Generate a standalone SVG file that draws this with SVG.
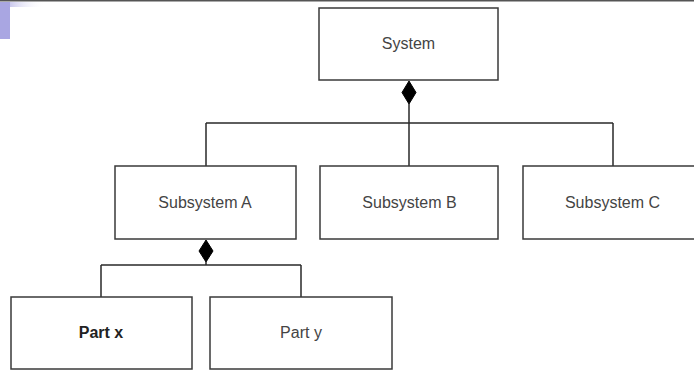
<svg xmlns="http://www.w3.org/2000/svg" width="694" height="371" viewBox="0 0 694 371">
  <style>
    .box { fill: #ffffff; stroke: #3a3a3a; stroke-width: 1.5; }
    .lbl { font-family: "Liberation Sans", Arial, sans-serif; font-size: 16px; fill: #444444; text-anchor: middle; }
    .bold { font-weight: bold; fill: #222222; }
    .wire { fill: none; stroke: #2a2a2a; stroke-width: 1.5; }
    .diamond { fill: #000000; stroke: #000000; stroke-width: 1; }
  </style>
  <defs>
    <linearGradient id="topBar" x1="0" y1="0" x2="1" y2="0">
      <stop offset="0" stop-color="#a9a6e2"/>
      <stop offset="1" stop-color="#ffffff" stop-opacity="0"/>
    </linearGradient>
  </defs>
  <rect x="0" y="0" width="694" height="371" fill="#ffffff"/>
  <!-- slide header accents -->
  <rect x="0" y="0" width="694" height="1.5" fill="#555555"/>
  <rect x="0" y="2" width="45" height="5" fill="url(#topBar)"/>
  <rect x="0" y="2" width="10" height="37" fill="#a9a6e2"/>

  <!-- connectors -->
  <g id="connectors">
    <path class="wire" d="M409 104 V123 M206 123 H613 M206 123 V166 M409 123 V166 M613 123 V166"/>
    <polygon class="diamond" points="409,81 416,92.5 409,104 402,92.5"/>
    <path class="wire" d="M206 262 V265 M101 265 H301 M101 265 V297 M301 265 V297"/>
    <polygon class="diamond" points="206,240 213,251 206,262 199,251"/>
  </g>

  <g id="system">
    <rect class="box" x="319" y="8" width="179" height="72"/>
    <text class="lbl" x="408.5" y="48.5">System</text>
  </g>
  <g id="subsystem-a">
    <rect class="box" x="115" y="166" width="181" height="73"/>
    <text class="lbl" x="205" y="208">Subsystem A</text>
  </g>
  <g id="subsystem-b">
    <rect class="box" x="320" y="166" width="178" height="73"/>
    <text class="lbl" x="409.5" y="208">Subsystem B</text>
  </g>
  <g id="subsystem-c">
    <rect class="box" x="523" y="166" width="178" height="73"/>
    <text class="lbl" x="612.5" y="208">Subsystem C</text>
  </g>
  <g id="part-x">
    <rect class="box" x="11" y="297" width="181" height="72"/>
    <text class="lbl bold" x="101" y="338">Part x</text>
  </g>
  <g id="part-y">
    <rect class="box" x="210" y="297" width="182" height="72"/>
    <text class="lbl" x="301" y="338">Part y</text>
  </g>
</svg>
